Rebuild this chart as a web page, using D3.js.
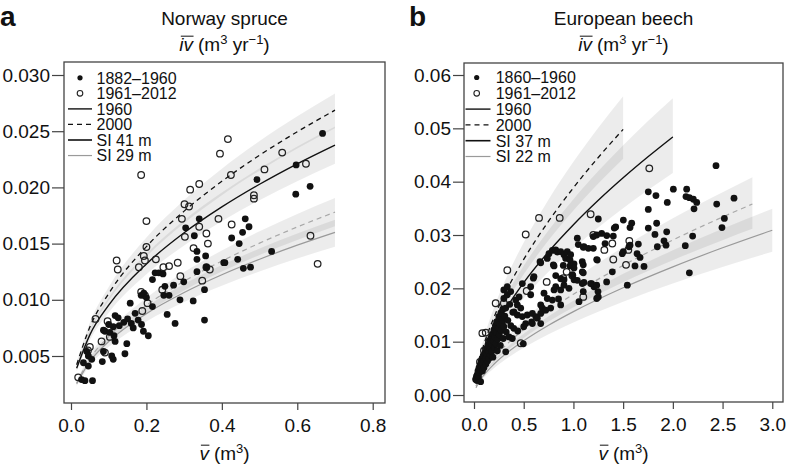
<!DOCTYPE html>
<html><head><meta charset="utf-8">
<script src="https://cdn.jsdelivr.net/npm/d3@7"></script>
<style>
body{margin:0;background:#fff}
text{font-family:"Liberation Sans",Arial,Helvetica,sans-serif;fill:#111}
</style>
</head><body><svg id="c" width="788" height="467"></svg>
<script>
// ---------------- DATA ----------------
const spruceXTicks = [0, 0.2, 0.4, 0.6, 0.8];
const spruceYTicks = [0.005, 0.010, 0.015, 0.020, 0.025, 0.030];
const beechXTicks = [0, 0.5, 1.0, 1.5, 2.0, 2.5, 3.0];
const beechYTicks = [0, 0.01, 0.02, 0.03, 0.04, 0.05, 0.06];

const spruceLegend = ["1882–1960", "1961–2012", "1960", "2000", "SI 41 m", "SI 29 m"];
const beechLegend = ["1860–1960", "1961–2012", "1960", "2000", "SI 37 m", "SI 22 m"];

// Norway spruce fitted curves
const spruceCurveX = [0.015, 0.05, 0.1, 0.2, 0.3, 0.4, 0.5, 0.6, 0.7];
const spruceSI41y1960 = [0.0039, 0.00688, 0.00952, 0.01319, 0.01596, 0.01826, 0.02028, 0.0221, 0.02376];
const spruceSI41y1960Lo = [0.00363, 0.0064, 0.00885, 0.01227, 0.01484, 0.01698, 0.01886, 0.02055, 0.0221];
const spruceSI41y1960Hi = [0.00417, 0.00736, 0.01019, 0.01411, 0.01708, 0.01954, 0.0217, 0.02365, 0.02542];
const spruceSI41y2000 = [0.00422, 0.00757, 0.01056, 0.01473, 0.01789, 0.02054, 0.02286, 0.02495, 0.02687];
const spruceSI41y2000Lo = [0.00397, 0.00712, 0.00993, 0.01385, 0.01682, 0.01931, 0.02149, 0.02345, 0.02526];
const spruceSI41y2000Hi = [0.00445, 0.00799, 0.01114, 0.01554, 0.01887, 0.02167, 0.02412, 0.02632, 0.02835];
const spruceSI29y1960 = [0.00253, 0.00451, 0.00629, 0.00877, 0.01065, 0.01223, 0.01361, 0.01486, 0.0160];
const spruceSI29y1960Lo = [0.00233, 0.00415, 0.00579, 0.00807, 0.0098, 0.01125, 0.01252, 0.01367, 0.01472];
const spruceSI29y1960Hi = [0.00271, 0.00483, 0.00673, 0.00938, 0.0114, 0.01309, 0.01456, 0.0159, 0.01712];
const spruceSI29y2000 = [0.0026, 0.00476, 0.00673, 0.00951, 0.01165, 0.01345, 0.01504, 0.01648, 0.0178];
const spruceSI29y2000Lo = [0.00242, 0.00443, 0.00626, 0.00884, 0.01083, 0.01251, 0.01399, 0.01533, 0.01655];
const spruceSI29y2000Hi = [0.00278, 0.00509, 0.0072, 0.01018, 0.01247, 0.01439, 0.01609, 0.01763, 0.01905];

// European beech fitted curves
const beechSI37x1960 = [0.02, 0.05, 0.1, 0.2, 0.35, 0.5, 0.75, 1.0, 1.25, 1.5, 1.75, 2.0];
const beechSI37y1960 = [0.00305, 0.0053, 0.00802, 0.01216, 0.01701, 0.02107, 0.02687, 0.03193, 0.03651, 0.04073, 0.04467, 0.0484];
const beechSI37y1960Lo = [0.00262, 0.00456, 0.0069, 0.01046, 0.01463, 0.01812, 0.02311, 0.02746, 0.0314, 0.03503, 0.03842, 0.04162];
const beechSI37y1960Hi = [0.00351, 0.0061, 0.00922, 0.01398, 0.01956, 0.02423, 0.0309, 0.03672, 0.04199, 0.04684, 0.05137, 0.05566];
const beechSI37x2000 = [0.02, 0.05, 0.1, 0.2, 0.35, 0.5, 0.75, 1.0, 1.25, 1.5];
const beechSI37y2000 = [0.00355, 0.00622, 0.0095, 0.01451, 0.02044, 0.02542, 0.03259, 0.03886, 0.04454, 0.0498];
const beechSI37y2000Lo = [0.00316, 0.00554, 0.00846, 0.01291, 0.01819, 0.02262, 0.029, 0.03459, 0.03964, 0.04432];
const beechSI37y2000Hi = [0.00399, 0.007, 0.01069, 0.01632, 0.023, 0.0286, 0.03666, 0.04372, 0.05011, 0.05603];
const beechSI22x1960 = [0.02, 0.05, 0.1, 0.2, 0.35, 0.5, 0.75, 1.0, 1.5, 2.0, 2.5, 3.0];
const beechSI22y1960 = [0.00138, 0.00244, 0.00375, 0.00577, 0.00816, 0.01017, 0.01308, 0.01564, 0.02011, 0.02403, 0.0276, 0.0309];
const beechSI22y1960Lo = [0.0012, 0.00212, 0.00326, 0.00502, 0.0071, 0.00885, 0.01138, 0.01361, 0.0175, 0.02091, 0.02401, 0.02688];
const beechSI22y1960Hi = [0.00156, 0.00276, 0.00424, 0.00652, 0.00922, 0.01149, 0.01478, 0.01767, 0.02272, 0.02715, 0.03119, 0.03492];
const beechSI22x2000 = [0.02, 0.05, 0.1, 0.2, 0.35, 0.5, 0.75, 1.0, 1.5, 2.0, 2.5, 2.8];
const beechSI22y2000 = [0.00167, 0.00295, 0.00454, 0.00697, 0.00987, 0.0123, 0.01582, 0.01891, 0.02431, 0.02906, 0.03337, 0.0358];
const beechSI22y2000Lo = [0.00145, 0.00257, 0.00395, 0.00606, 0.00859, 0.0107, 0.01376, 0.01645, 0.02115, 0.02528, 0.02903, 0.03115];
const beechSI22y2000Hi = [0.0019, 0.00336, 0.00518, 0.00795, 0.01125, 0.01402, 0.01803, 0.02156, 0.02771, 0.03313, 0.0380, 0.04081];

// Observations [mean volume, mean increment]
const spruceOld = [
[0.667,0.0248],[0.597,0.0220],[0.493,0.0207],[0.596,0.0194],[0.634,0.0201],[0.462,0.0172],[0.472,0.0165],[0.455,0.0160],
[0.426,0.0155],[0.446,0.0150],[0.408,0.0133],[0.442,0.0136],[0.457,0.0128],[0.476,0.0129],[0.532,0.0143],[0.405,0.0133],
[0.340,0.0172],[0.304,0.0164],[0.327,0.0157],[0.334,0.0143],[0.357,0.0139],[0.334,0.0136],[0.359,0.0129],[0.334,0.0125],
[0.223,0.0124],[0.233,0.0124],[0.244,0.0123],[0.216,0.0118],[0.299,0.0116],[0.272,0.0113],[0.249,0.0112],[0.354,0.0109],
[0.186,0.0104],[0.193,0.0106],[0.200,0.0102],[0.246,0.0104],[0.260,0.0104],[0.216,0.0094],[0.289,0.0100],[0.324,0.0099],
[0.157,0.0097],[0.255,0.0087],[0.276,0.0079],[0.354,0.0082],[0.117,0.0086],[0.170,0.0088],
[0.125,0.0084],[0.140,0.0080],[0.128,0.0077],[0.112,0.0076],[0.100,0.0078],[0.090,0.0072],[0.150,0.0083],[0.160,0.0079],
[0.178,0.0082],[0.165,0.0075],[0.103,0.0071],[0.086,0.0073],[0.114,0.0068],
[0.187,0.0078],[0.192,0.0072],[0.205,0.0068],[0.117,0.0063],[0.148,0.0061],[0.143,0.0052],
[0.083,0.0045],[0.112,0.0047],[0.086,0.0054],[0.108,0.0050],
[0.046,0.0041],[0.042,0.0054],[0.046,0.0050],[0.033,0.0044],[0.055,0.0047],
[0.028,0.0029],[0.037,0.0028],[0.057,0.0028]
];
const spruceNew = [
[0.186,0.0211],[0.424,0.0211],[0.316,0.0198],[0.340,0.0203],[0.301,0.0185],[0.313,0.0183],[0.200,0.0170],[0.294,0.0172],
[0.391,0.0172],[0.426,0.0167],[0.340,0.0165],[0.302,0.0156],[0.359,0.0159],[0.363,0.0150],[0.325,0.0146],[0.200,0.0147],
[0.193,0.0139],[0.196,0.0135],[0.180,0.0129],[0.225,0.0136],[0.121,0.0135],[0.124,0.0127],[0.245,0.0129],[0.260,0.0130],
[0.283,0.0133],[0.359,0.0129],[0.368,0.0127],[0.290,0.0121],[0.348,0.0117],[0.242,0.0109],[0.186,0.0107],[0.196,0.0104],
[0.203,0.0097],[0.189,0.0090],[0.065,0.0083],[0.097,0.0081],[0.103,0.0067],[0.081,0.0063],[0.050,0.0058],[0.045,0.0055],
[0.090,0.0053],[0.019,0.0031],[0.416,0.0243],[0.395,0.0230],[0.560,0.0231],[0.513,0.0216],[0.623,0.0221],[0.485,0.0193],
[0.485,0.0190],[0.635,0.0157],[0.654,0.0132]
];
const beechOld = [
[0.017,0.0029],[0.02,0.0031],[0.03,0.0027],[0.033,0.0038],[0.04,0.0045],[0.045,0.0034],[0.05,0.0051],[0.055,0.0042],
[0.06,0.0056],[0.065,0.0047],[0.067,0.0025],[0.07,0.0062],[0.075,0.0053],[0.08,0.0068],[0.085,0.0045],[0.09,0.0059],
[0.095,0.0074],[0.1,0.0064],[0.1,0.0051],[0.11,0.0080],[0.115,0.0069],[0.12,0.0058],[0.125,0.0087],[0.13,0.0075],
[0.135,0.0064],[0.14,0.0094],[0.145,0.0081],[0.15,0.0069],[0.155,0.0102],[0.16,0.0088],[0.165,0.0075],[0.17,0.0107],
[0.175,0.0095],[0.18,0.0082],[0.185,0.0114],[0.19,0.0071],[0.195,0.0101],[0.2,0.0122],[0.205,0.0089],[0.21,0.0109],
[0.215,0.0130],[0.22,0.0096],[0.225,0.0117],[0.23,0.0137],[0.235,0.0083],[0.24,0.0105],[0.245,0.0125],[0.25,0.0147],
[0.255,0.0113],[0.26,0.0133],[0.265,0.0093],[0.27,0.0154],[0.275,0.0121],[0.28,0.0141],[0.285,0.0134],[0.29,0.0161],
[0.295,0.0106],[0.3,0.0128],[0.3,0.0181],[0.3,0.0197],[0.31,0.0148],[0.319,0.0163],[0.319,0.0081],[0.325,0.0118],
[0.335,0.0203],[0.335,0.0188],[0.34,0.0140],[0.352,0.0109],[0.36,0.0170],[0.369,0.0194],[0.37,0.0130],[0.385,0.0106],
[0.39,0.0155],[0.4,0.0125],[0.402,0.0156],[0.42,0.0178],[0.436,0.0150],[0.436,0.0169],[0.44,0.0120],[0.453,0.0184],
[0.47,0.0163],[0.486,0.0147],[0.486,0.0209],[0.496,0.0096],
[0.50,0.0128],[0.52,0.0134],[0.536,0.0150],[0.57,0.0203],[0.57,0.0188],[0.58,0.0137],[0.587,0.0153],[0.587,0.0134],
[0.597,0.0219],[0.603,0.0222],[0.621,0.0147],[0.637,0.0144],[0.664,0.0250],[0.671,0.0248],[0.671,0.0169],[0.671,0.0153],
[0.671,0.0134],[0.687,0.0163],[0.704,0.0191],[0.721,0.0159],[0.737,0.0181],[0.737,0.0256],[0.754,0.0265],[0.771,0.0163],
[0.788,0.0271],[0.788,0.0178],[0.798,0.0244],[0.805,0.0197],[0.805,0.0242],[0.822,0.0203],[0.822,0.0224],[0.822,0.0272],
[0.838,0.0268],[0.85,0.0180],[0.872,0.0169],[0.872,0.0197],[0.872,0.0218],[0.872,0.0269],[0.898,0.0243],[0.905,0.0263],
[0.905,0.0216],[0.905,0.0206],[0.922,0.0256],[0.938,0.0269],[0.955,0.0200],[0.966,0.0253],[0.966,0.0242],[0.972,0.0263],
[0.989,0.0225],[1.006,0.0246],[1.006,0.0238],[1.006,0.0216],[1.039,0.0294],[1.039,0.0215],[1.049,0.0282],[1.056,0.0175],
[1.089,0.0250],[1.089,0.0231],[1.089,0.0209],[1.106,0.0278],[1.173,0.0209],[1.207,0.0203],[1.24,0.0253],[1.425,0.0315],
[1.335,0.0299],[1.491,0.0265],[1.559,0.0278],[1.247,0.0194],[1.234,0.0181],[1.64,0.0265],
[2.434,0.0430],[1.753,0.0381],[1.830,0.0374],[2.005,0.0386],[2.139,0.0386],[2.132,0.0372],[2.166,0.0370],[2.206,0.0367],
[2.240,0.0361],[1.944,0.0361],[2.213,0.0349],[2.441,0.0358],[2.615,0.0369],[2.518,0.0331],[2.494,0.0314],[1.753,0.0348],
[1.837,0.0322],[1.753,0.0313],[1.938,0.0306],[1.820,0.0301],[1.911,0.0289],[1.931,0.0281],[1.844,0.0278],[2.199,0.0298],
[2.125,0.0280],[2.166,0.0229],[1.502,0.0328],[1.586,0.0322],[1.569,0.0314],[1.411,0.0313],[1.250,0.0330],[1.284,0.0303],
[1.234,0.0300],[1.200,0.0297],[1.401,0.0298],[1.318,0.0284],[1.569,0.0281],[1.653,0.0283],[1.502,0.0269],[1.099,0.0277],
[1.150,0.0275],[1.200,0.0275],[1.234,0.0254],[1.670,0.0258],[1.619,0.0242],[1.710,0.0241],[1.391,0.0231],[1.099,0.0244],
[1.099,0.0229],[1.106,0.0211],[1.183,0.0209],[1.234,0.0206],[1.334,0.0212],[1.542,0.0206],[1.250,0.0184],[1.099,0.0194]
];
const beechNew = [
[1.763,0.0425],[1.173,0.0339],[1.200,0.0300],[1.311,0.0272],[1.391,0.0284],[1.562,0.0289],[1.552,0.0272],[1.401,0.0254],
[1.529,0.0244],[1.099,0.0184],[0.654,0.0332],[0.862,0.0332],[0.520,0.0301],[0.335,0.0234],[0.932,0.0231],[0.989,0.0224],
[0.731,0.0212],[0.898,0.0219],[0.53,0.0195],[0.218,0.0172],[0.235,0.0137],[0.118,0.0117],[0.47,0.0097],[0.084,0.0116],
[0.30,0.0172],[0.15,0.0100],[0.06,0.0062],[0.10,0.0083],[0.25,0.0135],[0.03,0.0035]
];

// ---------------- DRAWING ----------------
const svg = d3.select("#c");
const FONT = '"Liberation Sans",Arial,Helvetica,sans-serif';

const styles = {
  solid: {stroke: "#111", width: 1.4, dash: null},
  dash:  {stroke: "#111", width: 1.3, dash: "5,4"},
  gsolid:{stroke: "#9a9a9a", width: 1.2, dash: null},
  gdash: {stroke: "#a8a8a8", width: 1.2, dash: "5,4"}
};

function overlined(g, cx, baseline, italicStr, restBuilder, size) {
  const grp = g.append("g");
  const it = grp.append("text").attr("x", 0).attr("y", baseline)
    .attr("font-style", "italic").attr("font-size", size).text(italicStr);
  const w1 = it.node().getComputedTextLength();
  grp.append("line").attr("x1", 1.5).attr("x2", w1 + 0.5)
    .attr("y1", baseline - size * 0.78).attr("y2", baseline - size * 0.78)
    .attr("stroke", "#111").attr("stroke-width", 1);
  const rest = grp.append("text").attr("x", w1 + 5).attr("y", baseline).attr("font-size", size);
  restBuilder(rest);
  const total = w1 + 5 + rest.node().getComputedTextLength();
  grp.attr("transform", `translate(${cx - total / 2},0)`);
}

function drawPanel(p) {
  const [bx0, by0, bx1, by1] = p.box;
  const x = d3.scaleLinear().domain(p.xDomain).range([bx0, bx1]);
  const y = d3.scaleLinear().domain(p.yDomain).range([by1, by0]);
  const g = svg.append("g");

  const series = p.curves.map(c => c.x.map((xv, i) => ({x: xv, y: c.y[i], lo: c.lo[i], hi: c.hi[i]})));
  // bands
  series.forEach(s => {
    g.append("path").datum(s)
      .attr("d", d3.area().x(d => x(d.x)).y0(d => y(d.lo)).y1(d => y(d.hi)).curve(d3.curveMonotoneX))
      .attr("fill", "#000").attr("fill-opacity", 0.075);
  });
  // lines
  series.forEach((s, i) => {
    const st = styles[p.curves[i].style];
    g.append("path").datum(s)
      .attr("d", d3.line().x(d => x(d.x)).y(d => y(d.y)).curve(d3.curveMonotoneX))
      .attr("fill", "none").attr("stroke", st.stroke).attr("stroke-width", st.width)
      .attr("stroke-dasharray", st.dash);
  });
  // points
  g.append("g").selectAll("circle").data(p.recent).join("circle")
    .attr("cx", d => x(d[0])).attr("cy", d => y(d[1])).attr("r", 3.3)
    .attr("fill", "none").attr("stroke", "#222").attr("stroke-width", 1.25);
  g.append("g").selectAll("circle").data(p.old).join("circle")
    .attr("cx", d => x(d[0])).attr("cy", d => y(d[1])).attr("r", 3.4)
    .attr("fill", "#111");

  // box
  g.append("rect").attr("x", bx0).attr("y", by0).attr("width", bx1 - bx0).attr("height", by1 - by0)
    .attr("fill", "none").attr("stroke", "#444").attr("stroke-width", 1.3);

  // axes
  const xa = g.append("g").attr("transform", `translate(0,${by1})`)
    .call(d3.axisBottom(x).tickValues(p.xTicks).tickFormat(d3.format(p.xFmt)).tickSize(7).tickPadding(8.5).tickSizeOuter(0));
  xa.select(".domain").remove();
  xa.selectAll("line").attr("stroke", "#444").attr("stroke-width", 1.2);
  xa.selectAll("text").attr("font-size", 19).attr("font-family", FONT).attr("fill", "#111");

  const ya = g.append("g").attr("transform", `translate(${bx0},0)`)
    .call(d3.axisLeft(y).tickValues(p.yTicks).tickFormat(d3.format(p.yFmt)).tickSize(p.yTick).tickPadding(2).tickSizeOuter(0));
  ya.select(".domain").remove();
  ya.selectAll("line").attr("stroke", "#444").attr("stroke-width", 1.2);
  ya.selectAll("text").attr("font-size", 19).attr("font-family", FONT).attr("fill", "#111");

  // titles
  const cx = (bx0 + bx1) / 2;
  g.append("text").attr("x", cx).attr("y", 25).attr("text-anchor", "middle").attr("font-size", 19).text(p.title);
  overlined(g, cx, 51, "iv", t => {
    t.append("tspan").text("(m");
    t.append("tspan").attr("dy", -7).attr("font-size", 13).text("3");
    t.append("tspan").attr("dy", 7).text(" yr");
    t.append("tspan").attr("dy", -7).attr("font-size", 13).text("−1");
    t.append("tspan").attr("dy", 7).text(")");
  }, 19);
  overlined(g, cx, 460, "v", t => {
    t.append("tspan").text("(m");
    t.append("tspan").attr("dy", -7).attr("font-size", 13).text("3");
    t.append("tspan").attr("dy", 7).text(")");
  }, 19);

  // panel letter
  g.append("text").attr("x", p.letterX).attr("y", 26).attr("font-size", 28).attr("font-weight", "bold").text(p.letter);

  // legend
  const kinds = ["dot", "ring", "solid", "dash", "solid", "gsolid"];
  p.legend.forEach((lab, i) => {
    const ly = p.legY + i * p.legStep;
    const k = kinds[i];
    if (k === "dot") {
      g.append("circle").attr("cx", p.legDotX).attr("cy", ly).attr("r", 2.6).attr("fill", "#111");
    } else if (k === "ring") {
      g.append("circle").attr("cx", p.legDotX).attr("cy", ly).attr("r", 2.8).attr("fill", "none")
        .attr("stroke", "#222").attr("stroke-width", 1.1);
    } else {
      const st = styles[k];
      g.append("line").attr("x1", p.legLineX[0]).attr("x2", p.legLineX[1]).attr("y1", ly).attr("y2", ly)
        .attr("stroke", st.stroke).attr("stroke-width", i === 4 ? 1.6 : st.width).attr("stroke-dasharray", st.dash);
    }
    g.append("text").attr("x", p.legTextX).attr("y", ly + 5.8).attr("font-size", 16).text(lab);
  });
}

drawPanel({
  box: [64, 62, 385, 403],
  xDomain: [-0.01856, 0.8326], yDomain: [0.000818, 0.031157],
  xTicks: spruceXTicks, yTicks: spruceYTicks, xFmt: ".1f", yFmt: ".3f", yTick: 12,
  title: "Norway spruce", letter: "a", letterX: 0,
  legend: spruceLegend, legY: 77.8, legStep: 15.55, legDotX: 80, legLineX: [68, 92], legTextX: 96.5,
  curves: [
    {x: spruceCurveX, y: spruceSI41y2000, lo: spruceSI41y2000Lo, hi: spruceSI41y2000Hi, style: "dash"},
    {x: spruceCurveX, y: spruceSI41y1960, lo: spruceSI41y1960Lo, hi: spruceSI41y1960Hi, style: "solid"},
    {x: spruceCurveX, y: spruceSI29y2000, lo: spruceSI29y2000Lo, hi: spruceSI29y2000Hi, style: "gdash"},
    {x: spruceCurveX, y: spruceSI29y1960, lo: spruceSI29y1960Lo, hi: spruceSI29y1960Hi, style: "gsolid"}
  ],
  old: spruceOld, recent: spruceNew
});

drawPanel({
  box: [464, 63, 783, 402],
  xDomain: [-0.1006, 3.1078], yDomain: [-0.00131, 0.06225],
  xTicks: beechXTicks, yTicks: beechYTicks, xFmt: ".1f", yFmt: ".2f", yTick: 11,
  title: "European beech", letter: "b", letterX: 409,
  legend: beechLegend, legY: 77.5, legStep: 15.8, legDotX: 476.7, legLineX: [465.5, 490.5], legTextX: 495.7,
  curves: [
    {x: beechSI37x2000, y: beechSI37y2000, lo: beechSI37y2000Lo, hi: beechSI37y2000Hi, style: "dash"},
    {x: beechSI37x1960, y: beechSI37y1960, lo: beechSI37y1960Lo, hi: beechSI37y1960Hi, style: "solid"},
    {x: beechSI22x2000, y: beechSI22y2000, lo: beechSI22y2000Lo, hi: beechSI22y2000Hi, style: "gdash"},
    {x: beechSI22x1960, y: beechSI22y1960, lo: beechSI22y1960Lo, hi: beechSI22y1960Hi, style: "gsolid"}
  ],
  old: beechOld, recent: beechNew
});
</script></body></html>
